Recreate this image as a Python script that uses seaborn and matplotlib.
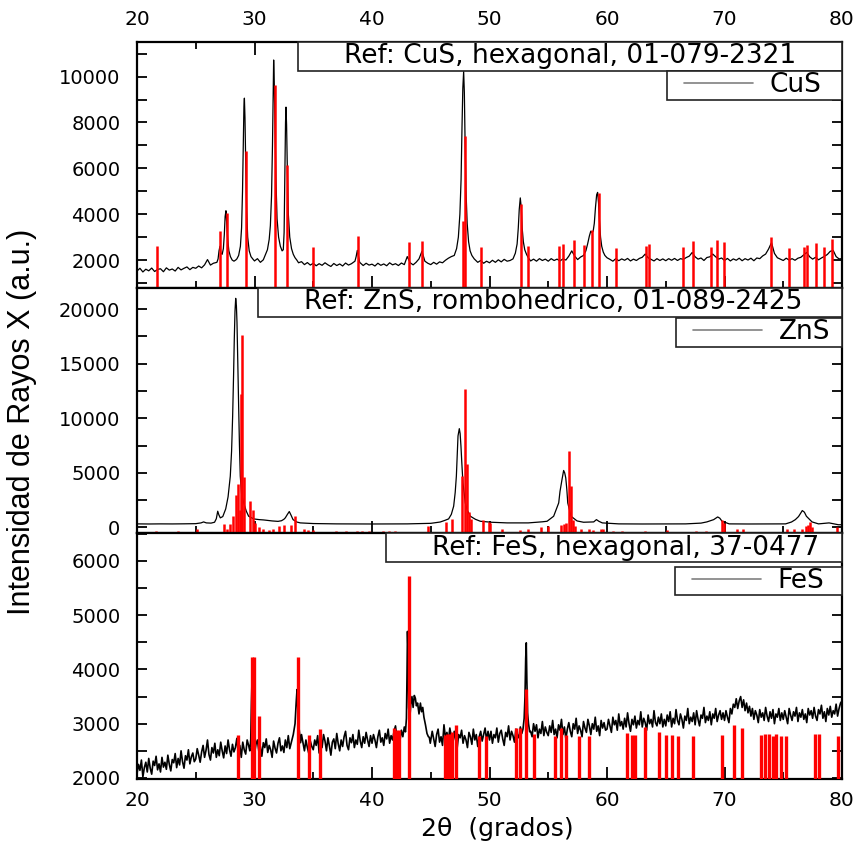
import numpy as np
import pandas as pd
import seaborn as sns
import matplotlib.pyplot as plt
from matplotlib.lines import Line2D
from matplotlib.legend_handler import HandlerLine2D
from matplotlib.ticker import MultipleLocator

# ---------------- CuS ----------------
# measured pattern, one value every 0.25 deg from 20 to 80
cus_base = [
    1520, 1640, 1480, 1600, 1530, 1650, 1500, 1590, 1620, 1490, 1660, 1560, 1610, 1520, 1680, 1570, 1640, 1700, 1580, 1680,  # 20
    1640, 1740, 1660, 1790, 2020, 1780, 1860, 1760, 2500, 2200, 3900, 2400, 1950, 1990, 2000, 2600, 8000, 5000, 2400, 2100,  # 25
    1960, 2060, 1900, 2010, 2200, 2900, 9000, 8500, 3000, 2450, 2450, 8600, 3000, 2300, 2100, 1880, 1930, 1800, 1890, 1780,  # 30
    1860, 1750, 1840, 1770, 1880, 1790, 1720, 1850, 1760, 1830, 1740, 1870, 1780, 1840, 1900, 2300, 1850, 1760, 1860, 1780,  # 35
    1820, 1740, 1860, 1770, 1830, 1750, 1880, 1790, 1840, 1760, 1870, 1800, 2150, 1880, 1790, 1900, 2050, 2380, 1950, 1860,  # 40
    1800, 1900, 1820, 1920, 1880, 1990, 2080, 2150, 2900, 4000, 6000, 9500, 5000, 2700, 2250, 2050, 1900, 1980, 1860, 1950,  # 45
    1880, 1990, 1900, 2010, 1920, 2030, 1950, 1980, 2050, 2600, 4400, 3000, 2300, 2100, 1960, 2040, 1950, 2060, 1980, 2040,  # 50
    1950, 2060, 1980, 2040, 1960, 2050, 2000, 2170, 2400, 2170, 2020, 2130, 2250, 2500, 3000, 3200, 4200, 4900, 3200, 2400,  # 55
    2100, 2030, 1950, 2060, 1970, 2050, 1990, 2070, 1960, 2040, 1980, 2070, 2120, 2260, 2100, 2030, 1960, 2060, 1980, 2050,  # 60
    1970, 2060, 1990, 2070, 1980, 2060, 2030, 2110, 2170, 2330, 2140, 2040, 2090, 1980, 2110, 2140, 2260, 2140, 2040, 2090,  # 65
    1980, 2070, 1960, 2050, 1990, 2080, 1970, 2060, 2000, 2080, 1970, 2090, 2060, 2180, 2260, 2480, 2760, 2290, 2100, 2040,  # 70
    1980, 2080, 2000, 2060, 1990, 2080, 2120, 2230, 2330, 2140, 2040, 2120, 2010, 2090, 2160, 2240, 2380, 2420, 2150, 2050,  # 75
    2060,
]
# finer readings across the peaks
cus_peak_x = [26.8, 26.9, 26.98, 27.06, 27.14, 27.25, 27.35, 27.43, 27.5, 27.57, 27.64, 27.72, 27.82, 27.95, 28.1, 28.25,
              28.4, 28.5, 28.65, 28.8, 28.9, 28.98, 29.05, 29.1, 29.14, 29.19, 29.25, 29.33, 29.42, 29.55, 29.7, 29.85,
              30.9, 31.1, 31.25, 31.35, 31.45, 31.53, 31.58, 31.63, 31.68, 31.74, 31.82, 31.92, 32.05, 32.2, 32.35, 32.45,
              32.52, 32.58, 32.64, 32.68, 32.73, 32.8, 32.88, 33.0, 33.15, 33.3, 33.45, 33.6,
              38.55, 38.65, 38.75, 38.85, 38.95,
              47.0, 47.2, 47.35, 47.48, 47.58, 47.66, 47.73, 47.8, 47.86, 47.92, 48.0, 48.1, 48.22, 48.35, 48.5, 48.7,
              52.0, 52.2, 52.35, 52.45, 52.53, 52.62, 52.7, 52.78, 52.88, 53.0, 53.15, 53.3,
              58.0, 58.2, 58.35, 58.5, 58.62, 58.72, 58.82, 58.92, 59.02, 59.12, 59.2, 59.28, 59.36, 59.45, 59.55, 59.68,
              59.82, 60.0]
cus_peak_y = [1900, 2050, 2400, 2600, 2300, 2250, 2500, 3100, 3900, 4150, 3600, 2900, 2400, 2150, 2000, 1950,
              2000, 2050, 2200, 2600, 3400, 5000, 7300, 8700, 9060, 8200, 6300, 4200, 3000, 2400, 2150, 2050,
              2200, 2450, 2900, 3500, 4800, 7000, 9000, 10725, 9800, 8000, 5600, 3800, 3000, 2600, 2400, 2450,
              3200, 5500, 8000, 8670, 7900, 5800, 4000, 3000, 2500, 2250, 2100, 2000,
              1950, 2150, 2420, 2150, 1900,
              2200, 2500, 3000, 4000, 5500, 7800, 9500, 10220, 9300, 7200, 5000, 3600, 2800, 2400, 2200, 2050,
              2050, 2300, 2700, 3400, 4200, 4710, 4300, 3400, 2800, 2450, 2250, 2100,
              2200, 2400, 2700, 3050, 3260, 3200, 3250, 3600, 4300, 4850, 4950, 4500, 3700, 3000, 2600, 2350,
              2200, 2100]
cus_ref_x = [21.70, 27.09, 27.66, 29.28, 31.77, 32.77, 34.98, 38.81, 43.12, 44.28, 47.74, 47.94, 49.30, 52.71, 53.25,
             55.94, 56.28, 57.19, 58.01, 58.69, 59.32, 60.77, 63.35, 63.55, 66.44, 67.32, 68.85, 69.36, 69.98, 73.98,
             75.51, 76.74, 77.02, 77.79, 78.50, 79.15]
cus_ref_y = [2610, 3260, 4060, 6740, 9640, 6160, 2565, 3070, 2780, 2810, 3700, 7420, 2580, 4460, 2610,
             2610, 2710, 2880, 2640, 3290, 4930, 2540, 2610, 2710, 2580, 2830, 2565, 2870, 2780, 2990,
             2520, 2565, 2670, 2740, 2565, 2900]

# ---------------- ZnS ----------------
zns_x = [20, 21, 22, 23, 24, 25, 25.45, 25.67, 25.9, 26.3, 26.6, 26.75, 26.87, 26.97, 27.09, 27.3, 27.55, 27.75, 27.94,
         28.05, 28.14, 28.22, 28.28, 28.34, 28.40, 28.46, 28.51, 28.58, 28.65, 28.72, 28.79, 28.9, 29.08, 29.3, 29.5,
         29.93, 30.4, 30.78, 31.5, 32.0, 32.3, 32.5, 32.62, 32.8, 32.96, 33.1, 33.28, 33.6, 33.9, 35, 37, 40, 43, 45,
         45.8, 46.2, 46.52, 46.75, 46.95, 47.08, 47.18, 47.26, 47.32, 47.43, 47.5, 47.57, 47.65, 47.74, 47.94, 48.1,
         48.37, 48.8, 49.22, 50.2, 51.5, 53.3, 54.5, 54.9, 55.46, 55.89, 56.0, 56.17, 56.31, 56.4, 56.49, 56.58, 56.66,
         56.94, 57.45, 58.0, 58.87, 59.1, 59.32, 59.6, 61.0, 63, 66.7, 68.0, 68.5, 69.08, 69.42, 69.6, 69.79, 70.4, 72,
         75.2, 75.7, 76.03, 76.3, 76.46, 76.62, 76.8, 76.97, 77.2, 77.45, 78.0, 78.9, 79.7, 80]
zns_y = [330, 320, 330, 325, 335, 350, 420, 510, 420, 400, 480, 800, 1490, 1150, 880, 1000, 1700, 2800, 4700,
         7000, 10200, 14000, 17250, 19800, 20980, 20300, 18770, 15000, 11130, 7500, 4700, 3100, 2250, 1500, 1030,
         785, 720, 690, 600, 560, 620, 750, 880, 1200, 1460, 1150, 720, 500, 420, 360, 330, 320, 330, 380,
         500, 650, 785, 1200, 1950, 3200, 4700, 6800, 8380, 9050, 8600, 7460, 5800, 4090, 2250, 1600,
         1030, 750, 570, 477, 420, 420, 520, 570, 1030, 2250, 3300, 4390, 5220, 5000, 4540, 3500, 2250,
         1030, 600, 480, 510, 720, 560, 420, 330, 320, 330, 400, 510, 720, 966, 850, 570, 330, 320,
         330, 500, 720, 1000, 1270, 1550, 1400, 1030, 780, 510, 330, 420, 250, 250]
zns_ref_x = [21.62, 23.46, 25.11, 27.43, 27.66, 27.94, 28.14, 28.40, 28.60, 28.75, 28.86, 28.96, 29.10, 29.59, 29.84,
             30.04, 30.41, 30.70, 31.24, 31.58, 32.11, 32.48, 33.11, 33.47, 34.20, 34.53, 35.00, 36.94, 37.76, 38.72,
             39.18, 39.72, 40.94, 41.45, 41.99, 44.74, 46.27, 46.81, 47.66, 47.94, 48.09, 48.26, 48.43, 49.45, 49.93,
             50.07, 51.07, 52.63, 53.25, 54.39, 54.95, 56.09, 56.31, 56.49, 56.77, 56.94, 57.11, 57.31, 57.80, 58.45,
             58.85, 59.48, 59.62, 60.50, 61.30, 63.20, 65.10, 67.60, 68.40, 69.82, 69.99, 71.10, 71.55, 75.30, 75.90,
             76.62, 76.91, 77.08, 77.25, 77.45, 79.58]
zns_ref_y = [-320, -320, -130, 355, -130, 355, 1030, 3000, 4000, 1600, 12200, 17640, 4600, 2440, 1580,
             420, 50, -130, -250, -130, 170, 230, 230, 1090, -180, -250, -250, -320, -320, -320,
             -320, -320, -320, -320, -320, 170, 540, 780, 4700, 12660, 5770, 1400, 780, 720, 480,
             420, -130, -250, -130, 50, 110, 230, 290, 420, 7000, 3780, 720, 110, -130, -130,
             -250, -130, -130, -320, -320, -320, -250, -320, -320, 720, 420, -130, -130, -130, -130,
             -130, 110, 230, 480, 50, 50]

# ---------------- FeS ----------------
# measured pattern, one value every 0.125 deg from 20 to 80
fes_base = [
    2080, 2250, 2140, 2330, 2020, 2190, 2290, 2110, 2360, 2180, 2070, 2310, 2230, 2400, 2150, 2260, 2110, 2380, 2200, 2290,  # 20
    2160, 2420, 2250, 2130, 2340, 2280, 2450, 2190, 2360, 2240, 2500, 2300, 2180, 2410, 2330, 2520, 2260, 2390, 2460, 2300,
    2350, 2540, 2420, 2290, 2480, 2600, 2380, 2510, 2700, 2430, 2330, 2560, 2460, 2640, 2380, 2520, 2410, 2660, 2500, 2370,  # 25
    2590, 2450, 2700, 2520, 2400, 2620, 2480, 2560, 2730, 2450, 2600, 2380, 2660, 2520, 2440, 2700, 2600, 2800, 3600, 3000,
    2450, 2620, 2700, 2480, 2580, 2400, 2650, 2560, 2720, 2470, 2600, 2520, 2380, 2680, 2550, 2460, 2640, 2740, 2500, 2590,  # 30
    2470, 2700, 2560, 2780, 2540, 2650, 2800, 2900, 3000, 3200, 3300, 3000, 2800, 2650, 2500, 2700, 2560, 2450, 2680, 2580,
    2520, 2700, 2600, 2780, 2460, 2640, 2560, 2800, 2680, 2500, 2740, 2590, 2420, 2660, 2720, 2540, 2820, 2630, 2500, 2700,  # 35
    2580, 2760, 2860, 2600, 2520, 2740, 2650, 2800, 2560, 2700, 2620, 2880, 2680, 2560, 2760, 2640, 2840, 2700, 2580, 2780,
    2640, 2800, 2700, 2560, 2760, 2880, 2660, 2740, 2600, 2820, 2720, 2900, 2640, 2780, 2700, 2860, 2960, 2720, 2800, 2680,  # 40
    2880, 2760, 2940, 2820, 3000, 3500, 4000, 3300, 3300, 3400, 3500, 3450, 3300, 3300, 3200, 3300, 3250, 3100, 2900, 2750,
    2640, 2860, 2720, 2580, 2800, 2900, 2660, 2760, 2600, 2980, 2740, 2840, 2680, 2920, 2760, 2620, 2860, 2700, 2560, 2800,  # 45
    2740, 2880, 2640, 2780, 2700, 2560, 2840, 2760, 2620, 2900, 2700, 2800, 2580, 2760, 2860, 2680, 2800, 2920, 2700, 2860,
    2700, 2860, 2640, 2800, 2740, 2920, 2660, 2820, 2880, 2720, 2600, 2840, 2760, 2960, 2700, 2860, 2780, 2660, 2900, 2800,  # 50
    2740, 2940, 2820, 3000, 3000, 3000, 3000, 3000, 2860, 2760, 3000, 2860, 2980, 2740, 2900, 2820, 3040, 2780, 2940, 2840,
    2780, 2960, 2840, 3060, 2800, 2900, 2740, 2980, 2880, 3080, 2800, 2940, 2720, 2900, 3020, 2860, 2760, 3000, 2900, 3100,  # 55
    2820, 2960, 2880, 2760, 3040, 2920, 2840, 3080, 2960, 2800, 3000, 2900, 3120, 2860, 2960, 2780, 3060, 2920, 3020, 2880,
    2900, 3080, 2960, 2840, 3120, 2980, 3060, 2880, 3180, 2960, 3040, 2900, 3100, 2940, 3200, 3000, 2860, 3080, 2980, 3140,  # 60
    2920, 3060, 2980, 3220, 2940, 3100, 3020, 2880, 3160, 3000, 3080, 2940, 3240, 3020, 2960, 3120, 3000, 3180, 2940, 3080,
    2960, 3160, 3040, 3220, 2940, 3100, 3000, 3260, 3060, 2980, 3180, 3080, 2920, 3140, 3060, 3280, 3000, 3120, 3040, 3200,  # 65
    2980, 3240, 3080, 2960, 3160, 3100, 3300, 3020, 3140, 3060, 3220, 2980, 3180, 3100, 3280, 3040, 3160, 3240, 3080, 3200,
    3060, 3240, 3120, 3020, 3280, 3180, 3360, 3300, 3460, 3280, 3420, 3500, 3300, 3440, 3240, 3380, 3200, 3320, 3140, 3280,  # 70
    3080, 3240, 3160, 3020, 3260, 3120, 3200, 3060, 3300, 3140, 3040, 3220, 3100, 3260, 3000, 3180, 3120, 3280, 3060, 3200,
    3080, 3240, 3120, 3000, 3280, 3160, 3060, 3220, 3140, 3300, 3040, 3200, 3120, 3260, 3080, 3180, 3020, 3280, 3160, 3240,  # 75
    3100, 3300, 3140, 3060, 3260, 3180, 3340, 3100, 3220, 3040, 3280, 3160, 3320, 3120, 3240, 3180, 3360, 3140, 3280, 3380,
    3420,
]
fes_peak_x = [29.6, 29.68, 29.74, 29.8, 29.86, 29.93, 30.0,
              33.3, 33.45, 33.55, 33.62, 33.7, 33.8, 33.92,
              42.85, 42.93, 42.98, 43.02, 43.07, 43.12, 43.2, 43.3, 43.4, 43.5, 43.6, 43.69, 43.78, 43.88, 44.0,
              44.12, 44.22, 44.32, 44.42, 44.55, 44.68, 44.8, 44.96,
              52.85, 52.95, 53.02, 53.08, 53.13, 53.18, 53.24, 53.32, 53.42]
fes_peak_y = [2500, 2700, 3400, 3900, 3300, 2700, 2450,
              2800, 3000, 3400, 3630, 3200, 2900, 2650,
              2850, 3100, 3900, 4700, 4300, 3300, 3050, 3350, 3500, 3300, 3520, 3470, 3330, 3380, 3180,
              3380, 3220, 3300, 3120, 2980, 2820, 2760, 2640,
              2900, 3100, 3500, 4200, 4490, 3800, 3200, 3000, 2850]
fes_ref_x = [28.57, 29.81, 29.97, 30.41, 33.67, 34.67, 35.55, 41.84, 42.07, 42.27, 43.15, 46.24, 46.38, 46.58, 46.81,
             47.15, 49.13, 49.73, 52.28, 52.57, 53.13, 53.76, 55.55, 56.09, 56.49, 57.65, 58.44, 61.70, 62.16, 62.41,
             63.21, 64.40, 65.05, 65.56, 66.04, 67.29, 69.81, 70.78, 71.49, 73.13, 73.42, 73.76, 74.13, 74.38, 74.84,
             75.23, 77.73, 78.01, 79.63]
fes_ref_y = [2790, 4230, 4230, 3150, 4230, 2790, 2906, 2912, 2881, 2881, 5730, 2789, 2814, 2814, 2850,
             2973, 2765, 2765, 2912, 2912, 3647, 2814, 2771, 2912, 2789, 2771, 2771, 2820, 2789, 2789,
             2943, 2850, 2789, 2789, 2765, 2765, 2789, 2967, 2912, 2789, 2814, 2814, 2765, 2814, 2765,
             2765, 2814, 2814, 2765]

ref_labels = ['Ref: CuS, hexagonal, 01-079-2321',
              'Ref: ZnS, rombohedrico, 01-089-2425',
              'Ref: FeS, hexagonal, 37-0477']
sample_labels = ['CuS', 'ZnS', 'FeS']


def pattern(base, px, py, step):
    gx = 20 + step * np.arange(len(base))
    keep = np.array([np.min(np.abs(np.array(px) - g)) > 0.55 * step for g in gx])
    df = pd.DataFrame({'x': np.r_[gx[keep], px], 'y': np.r_[np.array(base)[keep], py]})
    return df.sort_values('x')


curves = [pattern(cus_base, cus_peak_x, cus_peak_y, 0.25),
          pd.DataFrame({'x': zns_x, 'y': zns_y}),
          pattern(fes_base, fes_peak_x, fes_peak_y, 0.125)]
refs = [(cus_ref_x, cus_ref_y), (zns_ref_x, zns_ref_y), (fes_ref_x, fes_ref_y)]

sns.set_theme(style='ticks')
plt.rcParams['font.family'] = ['DejaVu Sans']
plt.rcParams.update({'axes.linewidth': 1.6, 'text.color': 'black',
                     'xtick.color': 'black', 'ytick.color': 'black'})

fig = plt.figure(figsize=(8.59, 8.42), dpi=100)
left, width = 137 / 859, 705 / 859
axes = [fig.add_axes([left, 0.6580, width, 0.2922]),
        fig.add_axes([left, 0.3664, width, 0.2916]),
        fig.add_axes([left, 0.0754, width, 0.2910])]

ylims = [(782, 11513), (-550, 21930), (1990, 6505)]
ysteps = [(2000, 1000), (5000, 2500), (1000, 500)]
boxA = [(0.2284, 0.882), (0.1716, 0.878), (0.3532, 0.865)]
boxB = [(0.7518, 0.756), (0.7645, 0.756), (0.763, 0.743)]
stick_w = [1.8, 1.8, 2.4]
line_w = [0.9, 0.9, 1.2]

for i, ax in enumerate(axes):
    sns.lineplot(data=curves[i], x='x', y='y', ax=ax, color='black', lw=line_w[i],
                 estimator=None, sort=False, legend=False)
    rx, ry = refs[i]
    ax.vlines(rx, ylims[i][0], ry, color='red', lw=stick_w[i], zorder=3)
    ax.set_xlim(20, 80)
    ax.set_ylim(*ylims[i])
    ax.xaxis.set_major_locator(MultipleLocator(10))
    ax.xaxis.set_minor_locator(MultipleLocator(5))
    ax.yaxis.set_major_locator(MultipleLocator(ysteps[i][0]))
    ax.yaxis.set_minor_locator(MultipleLocator(ysteps[i][1]))
    ax.set_xlabel('')
    ax.set_ylabel('')
    ax.tick_params(axis='y', which='both', direction='in', left=True, right=True,
                   length=7, width=1.3, labelsize=14, pad=12)
    ax.tick_params(axis='x', which='major', length=9, width=1.3)
    ax.tick_params(axis='x', which='minor', length=5, width=1.3)
    ax.tick_params(axis='x', which='both', direction='in', bottom=True, top=(i == 0),
                   labelbottom=(i == 2), labeltop=(i == 0), labelsize=14.5, pad=9)
    for s in ax.spines.values():
        s.set_color('black')

    x0, y0 = boxA[i]
    leg1 = ax.legend([Line2D([], [], color='none')], [ref_labels[i]], loc='upper right',
                     bbox_to_anchor=(x0, y0, 1 - x0, 1 - y0), mode='expand', borderaxespad=0,
                     handlelength=1.7, handletextpad=0, borderpad=0.05, fontsize=19,
                     fancybox=False, framealpha=1, edgecolor='#222222')
    leg1.get_frame().set_linewidth(1.2)
    ax.add_artist(leg1)
    bx, by = boxB[i]
    leg2 = ax.legend([Line2D([], [], color='gray', lw=1.2)], [sample_labels[i]], loc='upper right',
                     bbox_to_anchor=(bx, by, 1 - bx, y0 - by), mode='expand', borderaxespad=0,
                     handlelength=3.8, handletextpad=0.05, borderpad=0.05, fontsize=19, numpoints=2,
                     handler_map={Line2D: HandlerLine2D(marker_pad=0.6)},
                     fancybox=False, framealpha=1, edgecolor='#222222')
    leg2.get_frame().set_linewidth(1.2)

fig.text(22 / 859, 0.4988, 'Intensidad de Rayos X (a.u.)', rotation=90, ha='center', va='center',
         fontsize=22, family=['Liberation Sans Narrow', 'Liberation Sans'])
fig.text(497 / 859, 1 - 829 / 842, '2θ  (grados)', ha='center', va='center', fontsize=18)

fig.savefig('out.png', dpi=100, facecolor='white')
